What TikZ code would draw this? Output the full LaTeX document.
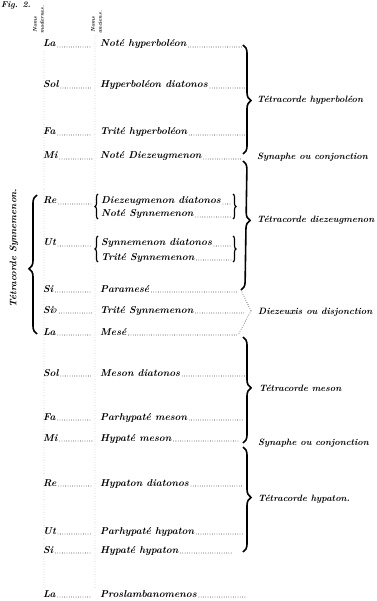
\documentclass[tikz,border=0pt]{standalone}
\usetikzlibrary{decorations.pathreplacing}
\begin{document}
\begin{tikzpicture}[x=1pt,y=-1pt,
  nm/.style={anchor=base west, inner sep=0pt, font=\fontsize{10}{11}\selectfont\bfseries\itshape},
  lbl/.style={anchor=base west, inner sep=0pt, font=\fontsize{9.2}{10}\selectfont\bfseries\itshape},
  hdr/.style={anchor=west, inner sep=0pt, rotate=90, font=\fontsize{5.5}{6}\selectfont\bfseries\itshape},
  leader/.style={line width=0.8pt, line cap=round, dash pattern=on 0pt off 2.3pt},
  guide/.style={line width=0.6pt, line cap=round, dash pattern=on 0pt off 2.6pt, black!40},
  bigbrace/.style={decorate, decoration={brace, amplitude=8pt, aspect=#1}, line width=1.6pt},
  smallbrace/.style={decorate, decoration={brace, amplitude=3pt}, line width=1.1pt},
]
\useasboundingbox (0,0) rectangle (376,601);

% title
\node[anchor=base west, inner sep=0pt, font=\fontsize{8.5}{9}\selectfont\bfseries\itshape] (fig) at (1,8) {Fig. 2.};

% headers
\node[hdr] (h1) at (35,33) {Noms};
\node[hdr] (h2) at (42,34) {modernes.};
\node[hdr] (h3) at (93,33) {Noms};
\node[hdr] (h4) at (100,34) {anciens.};

% vertical guides
\coordinate (gl1) at (44,52);
\coordinate (gl2) at (44,588);
\coordinate (gr1) at (95,36);
\coordinate (gr2) at (95,588);
\draw[guide] (gl1) -- (gl2);
\draw[guide] (gr1) -- (gr2);

% simple rows
\foreach \i/\m/\a/\y/\e in {
  1/La/Noté hyperboléon/47/243,
  2/Sol/Hyperboléon diatonos/88/245,
  3/Fa/Trité hyperboléon/135/245,
  4/Mi/Noté Diezeugmenon/159/241,
  7/Si/Paramesé/292/238,
  8/Si$\flat$/Trité Synnemenon/313/244,
  9/La/Mesé/335/238,
  10/Sol/Meson diatonos/376/245,
  11/Fa/Parhypaté meson/420/243,
  12/Mi/Hypaté meson/441/238,
  13/Re/Hypaton diatonos/486/243,
  14/Ut/Parhypaté hypaton/534/243,
  15/Si/Hypaté hypaton/553/233,
  16/La/Proslambanomenos/597/246}{
  \node[nm] (m\i) at (43,\y) {\m};
  \node[nm] (a\i) at (100,\y) {\a};
  \coordinate (me\i) at (92,\y);
  \coordinate (ae\i) at (\e,\y);
  \draw[leader] ([xshift=2pt]m\i.base east) -- (me\i);
  \draw[leader] ([xshift=2pt]a\i.base east) -- (ae\i);
}

% double rows
\foreach \i/\m/\a/\b/\y/\z in {
  5/Re/Diezeugmenon diatonos/Noté Synnemenon/204/217,
  6/Ut/Synnemenon diatonos/Trité Synnemenon/246/260}{
  \node[nm] (m\i) at (43,\y) {\m};
  \coordinate (me\i) at (92,\y);
  \draw[leader] ([xshift=2pt]m\i.base east) -- (me\i);
  \node[nm] (a\i) at (101,\y) {\a};
  \node[nm] (b\i) at (101,\z) {\b};
  \coordinate (ae\i) at (231,\y);
  \coordinate (be\i) at (231,\z);
  \draw[leader] ([xshift=2pt]a\i.base east) -- (ae\i);
  \draw[leader] ([xshift=2pt]b\i.base east) -- (be\i);
  \coordinate (sl\i t) at (98,\y-10);
  \coordinate (sl\i b) at (98,\z+2);
  \coordinate (sr\i t) at (233,\y-10);
  \coordinate (sr\i b) at (233,\z+2);
  \draw[smallbrace] (sl\i b) -- (sl\i t);
  \draw[smallbrace] (sr\i t) -- (sr\i b);
}

% big braces right
\coordinate (b1t) at (243,45);   \coordinate (b1b) at (243,154);
\coordinate (b2t) at (243,161);  \coordinate (b2b) at (241,290);
\coordinate (b3t) at (243,337);  \coordinate (b3b) at (243,443);
\coordinate (b4t) at (243,447);  \coordinate (b4b) at (243,552);
\draw[bigbrace=0.51] (b1t) -- (b1b);
\draw[bigbrace=0.46] (b2t) -- (b2b);
\draw[bigbrace=0.48] (b3t) -- (b3b);
\draw[bigbrace=0.48] (b4t) -- (b4b);

% diezeuxis chevron
\coordinate (dz) at (251,311);
\draw[leader] (b2b) -- (dz);
\draw[leader] (dz) -- (ae9);

% left brace
\coordinate (lbt) at (37,195);
\coordinate (lbb) at (37,334);
\draw[bigbrace=0.47] (lbb) -- (lbt);
\node[anchor=center, inner sep=0pt, rotate=90, font=\fontsize{9.5}{10}\selectfont\bfseries\itshape] (ts) at (14,248) {Tétracorde Synnemenon.};

% right labels
\node[lbl] (r1) at (257,103) {Tétracorde hyperboléon};
\node[lbl] (r2) at (257,160) {Synaphe ou conjonction};
\node[lbl] (r3) at (257,223) {Tétracorde diezeugmenon};
\node[lbl] (r4) at (258,314) {Diezeuxis ou disjonction};
\node[lbl] (r5) at (259,391) {Tétracorde meson};
\node[lbl] (r6) at (258,445) {Synaphe ou conjonction};
\node[lbl] (r7) at (258,501) {Tétracorde hypaton.};
\end{tikzpicture}
\end{document}
